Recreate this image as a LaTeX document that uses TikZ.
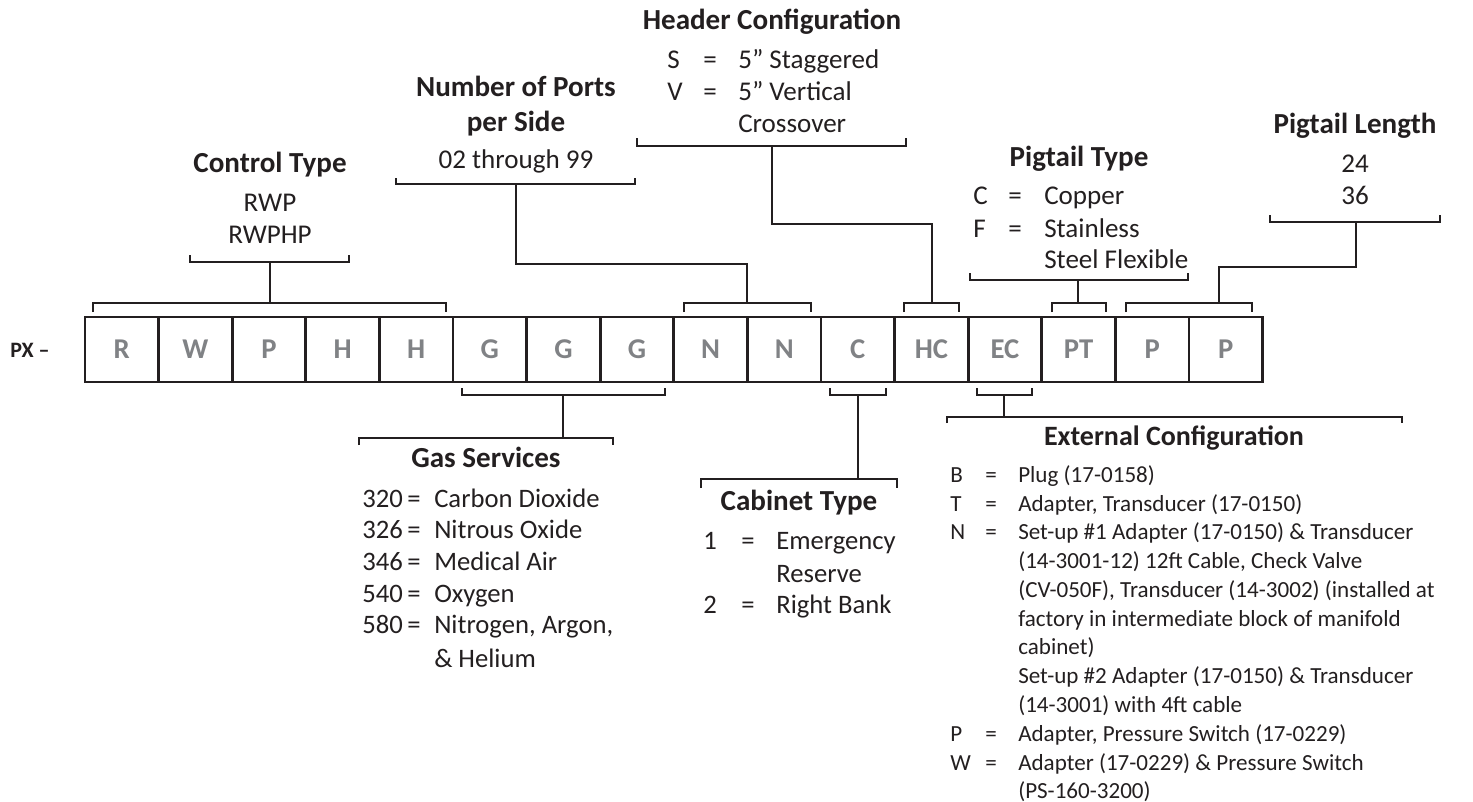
\documentclass[tikz,border=0pt]{standalone}
\usepackage{fontspec}
\setmainfont{Carlito}
\definecolor{ink}{RGB}{35,31,32}
\definecolor{cellgray}{RGB}{128,130,133}
\begin{document}
\begin{tikzpicture}[x=0.75pt,y=-0.75pt,
  cell/.style={draw=ink, line width=2pt, minimum width=55.2pt, minimum height=48.75pt, inner sep=0pt,
    font=\fontsize{21.5}{21.5}\selectfont\bfseries, text=cellgray},
  head/.style={font=\fontsize{21.8}{21.8}\selectfont\bfseries, text=ink, inner sep=0pt, anchor=base},
  ehead/.style={head, font=\fontsize{21}{21}\selectfont\bfseries},
  txt/.style={font=\fontsize{20.3}{20.3}\selectfont, text=ink, inner sep=0pt, anchor=base},
  txtl/.style={txt, anchor=base west},
  gtxt/.style={font=\fontsize{20}{20}\selectfont, text=ink, inner sep=0pt, anchor=base west},
  etxt/.style={font=\fontsize{17.3}{17.3}\selectfont, text=ink, inner sep=0pt, anchor=base west},
  br/.style={draw=ink, line width=2pt, line join=miter}
]
\useasboundingbox (0,0) rectangle (1473,801);

% prefix
\node[font=\fontsize{16.5}{16.5}\selectfont\bfseries, text=ink, inner sep=0pt, anchor=base west] (px) at (10,357) {PX –};

% cells
\foreach \i/\t in {1/R,2/W,3/P,4/H,5/H,6/G,7/G,8/G,9/N,10/N,11/C,12/HC,13/EC,14/PT,15/P,16/P}{
  \node[cell] (b\i) at ({85+73.6*(\i-0.5)},349.5) {\t};
}

% ---------- Control Type ----------
\node[head] (cth) at (270,172) {Control Type};
\node[txt] (ct1) at (270,211) {RWP};
\node[txt] (ct2) at (270,243) {RWPHP};
\draw[br] (190,255) -- (190,262) -- (349,262) -- (349,255);
\draw[br] (93,312) -- (93,303) -- (446,303) -- (446,312);
\coordinate (ctA) at (270,262); \coordinate (ctB) at (270,303);
\draw[br] (ctA) -- (ctB);

% ---------- Number of Ports ----------
\node[head] (nph1) at (516,96) {Number of Ports};
\node[head] (nph2) at (516,131) {per Side};
\node[txt] (np1) at (516,168) {02 through 99};
\draw[br] (396,178) -- (396,184) -- (635,184) -- (635,178);
\draw[br] (684,312) -- (684,303) -- (811,303) -- (811,312);
\coordinate (npA) at (516,184); \coordinate (npB) at (747,303);
\draw[br] (npA) |- (747,264) -- (npB);

% ---------- Header Configuration ----------
\node[head] (hch) at (772,29) {Header Configuration};
\node[txtl] (hc1a) at (667,68) {S};
\node[txtl] (hc1b) at (703,68) {=};
\node[txtl] (hc1c) at (738,68) {5” Staggered};
\node[txtl] (hc2a) at (667,100) {V};
\node[txtl] (hc2b) at (703,100) {=};
\node[txtl] (hc2c) at (738,100) {5” Vertical};
\node[txtl] (hc3c) at (738,132) {Crossover};
\draw[br] (637,138) -- (637,146) -- (906,146) -- (906,138);
\draw[br] (904,312) -- (904,303) -- (959,303) -- (959,312);
\coordinate (hcA) at (772,146); \coordinate (hcB) at (932,303);
\draw[br] (hcA) |- (932,224) -- (hcB);

% ---------- Pigtail Type ----------
\node[head] (pth) at (1079,166) {Pigtail Type};
\node[txtl] (pt1a) at (973,204) {C};
\node[txtl] (pt1b) at (1008,204) {=};
\node[txtl] (pt1c) at (1044,204) {Copper};
\node[txtl] (pt2a) at (973,237) {F};
\node[txtl] (pt2b) at (1008,237) {=};
\node[txtl] (pt2c) at (1044,237) {Stainless};
\node[txtl] (pt3c) at (1044,268) {Steel Flexible};
\draw[br] (970,273) -- (970,280) -- (1188,280) -- (1188,273);
\draw[br] (1052,312) -- (1052,303) -- (1106,303) -- (1106,312);
\coordinate (ptA) at (1078,280); \coordinate (ptB) at (1078,303);
\draw[br] (ptA) -- (ptB);

% ---------- Pigtail Length ----------
\node[head] (plh) at (1355,133) {Pigtail Length};
\node[txt] (pl1) at (1355,172) {24};
\node[txt] (pl2) at (1355,204) {36};
\draw[br] (1270,215) -- (1270,222) -- (1440,222) -- (1440,215);
\draw[br] (1126,312) -- (1126,303) -- (1252,303) -- (1252,312);
\coordinate (plA) at (1356,222); \coordinate (plB) at (1219,303);
\draw[br] (plA) |- (1219,267) -- (plB);

% ---------- Gas Services ----------
\draw[br] (462,388) -- (462,395) -- (665,395) -- (665,388);
\draw[br] (359,445) -- (359,438) -- (613,438) -- (613,445);
\coordinate (gsA) at (563,395); \coordinate (gsB) at (563,438);
\draw[br] (gsA) -- (gsB);
\node[head] (gsh) at (486,467) {Gas Services};
\foreach \n/\y/\t [count=\k] in {320/507/Carbon Dioxide,326/538/Nitrous Oxide,346/570/Medical Air,540/602/Oxygen,580/633/{Nitrogen, Argon,}}{
  \node[gtxt] (gs\k a) at (362,\y) {\n};
  \node[gtxt] (gs\k b) at (407,\y) {=};
  \node[gtxt] (gs\k c) at (434,\y) {\t};
}
\node[gtxt] (gs6c) at (434,667) {\& Helium};

% ---------- Cabinet Type ----------
\draw[br] (830,388) -- (830,395) -- (886,395) -- (886,388);
\draw[br] (701,488) -- (701,479) -- (897,479) -- (897,488);
\coordinate (cbA) at (858,395); \coordinate (cbB) at (858,479);
\draw[br] (cbA) -- (cbB);
\node[head] (cbh) at (799,510) {Cabinet Type};
\node[gtxt] (cb1a) at (703,549) {1};
\node[gtxt] (cb1b) at (741,549) {=};
\node[gtxt] (cb1c) at (776,549) {Emergency};
\node[gtxt] (cb2c) at (776,582) {Reserve};
\node[gtxt] (cb3a) at (703,613) {2};
\node[gtxt] (cb3b) at (741,613) {=};
\node[gtxt] (cb3c) at (776,613) {Right Bank};

% ---------- External Configuration ----------
\draw[br] (977,388) -- (977,395) -- (1032,395) -- (1032,388);
\draw[br] (947,423) -- (947,417) -- (1402,417) -- (1402,423);
\coordinate (ecA) at (1004,395); \coordinate (ecB) at (1004,417);
\draw[br] (ecA) -- (ecB);
\node[ehead] (ech) at (1174,445) {External Configuration};
\foreach \l/\y in {B/482,T/511,N/539,P/741,W/770}{
  \node[etxt] (ec\l a) at (950,\y) {\l};
  \node[etxt] (ec\l b) at (985,\y) {=};
}
\node[etxt] (ec1) at (1018,482) {Plug (17-0158)};
\node[etxt] (ec2) at (1018,511) {Adapter, Transducer (17-0150)};
\node[etxt] (ec3) at (1018,539) {Set-up \#1 Adapter (17-0150) \& Transducer};
\node[etxt] (ec4) at (1018,568) {(14-3001-12) 12ft Cable, Check Valve};
\node[etxt] (ec5) at (1018,597) {(CV-050F), Transducer (14-3002) (installed at};
\node[etxt] (ec6) at (1018,626) {factory in intermediate block of manifold};
\node[etxt] (ec7) at (1018,654) {cabinet)};
\node[etxt] (ec8) at (1018,683) {Set-up \#2 Adapter (17-0150) \& Transducer};
\node[etxt] (ec9) at (1018,712) {(14-3001) with 4ft cable};
\node[etxt] (ec10) at (1018,741) {Adapter, Pressure Switch (17-0229)};
\node[etxt] (ec11) at (1018,770) {Adapter (17-0229) \& Pressure Switch};
\node[etxt] (ec12) at (1018,798) {(PS-160-3200)};
\end{tikzpicture}
\end{document}
